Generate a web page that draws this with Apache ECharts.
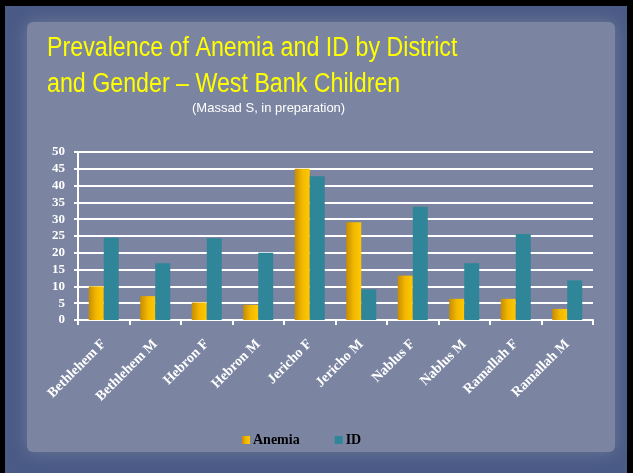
<!DOCTYPE html>
<html>
<head>
<meta charset="utf-8">
<script src="https://cdn.jsdelivr.net/npm/echarts@6/dist/echarts.min.js"></script>
<style>html,body{margin:0;padding:0;background:#000;}#c{width:633px;height:473px;}</style>
</head>
<body>
<div id="c"></div>
<script>
var categories = ['Bethlehem F','Bethlehem M','Hebron F','Hebron M','Jericho F','Jericho M','Nablus F','Nablus M','Ramallah F','Ramallah M'];
var anemia = [10, 7.1, 5.2, 4.5, 45, 29.1, 13.2, 6.3, 6.3, 3.3];
var idDef = [24.5, 16.9, 24.3, 20, 42.8, 9.1, 33.7, 16.9, 25.6, 11.8];
var seriesNames = ['Anemia', 'ID'];
var yTicks = {min: 0, max: 50, interval: 5};

var chart = echarts.init(document.getElementById('c'), null, {renderer: 'canvas'});
var labelFont = 'Liberation Serif';
chart.setOption({
  backgroundColor: '#000',
  animation: false,
  graphic: [
    {type: 'rect', z: -10, shape: {x: 5, y: 6, width: 622, height: 467}, style: {fill: '#4a5b86'}},
    {type: 'rect', z: -9, shape: {x: 27, y: 22, width: 588, height: 430, r: 6},
     style: {fill: '#7b85a2', shadowBlur: 16, shadowColor: '#6f7a98'}},
    {type: 'text', x: 47, y: 31, scaleX: 0.86, style: {text: 'Prevalence of Anemia and ID by District\nand Gender \u2013 West Bank Children', fill: '#ffff00', font: '27px "Liberation Sans", Arial, sans-serif', lineHeight: 35.5}},
    {type: 'text', left: 192, top: 102, style: {text: '(Massad S, in preparation)', fill: '#ffffff', font: '13px "Liberation Sans", Arial, sans-serif'}}
  ],
  legend: {
    data: seriesNames,
    left: 237, top: 428,
    itemWidth: 8, itemHeight: 8, itemGap: 35,
    icon: 'rect',
    textStyle: {color: '#000', fontFamily: labelFont, fontWeight: 'bold', fontSize: 14, padding: [0,0,0,-2]}
  },
  grid: {left: 78, right: 40, top: 152, bottom: 153, containLabel: false},
  xAxis: {
    type: 'category', data: categories,
    axisLine: {lineStyle: {color: '#fff', width: 2}},
    axisTick: {show: true, alignWithLabel: false, length: 5, lineStyle: {color: '#fff', width: 2}},
    axisLabel: {rotate: 45, color: '#fff', fontFamily: labelFont, fontWeight: 'bold', fontSize: 14, margin: 22, interval: 0}
  },
  yAxis: {
    type: 'value', min: yTicks.min, max: yTicks.max, interval: yTicks.interval,
    axisLine: {show: true, lineStyle: {color: '#fff', width: 2}},
    axisTick: {show: true, inside: false, length: 4, lineStyle: {color: '#fff', width: 2}},
    axisLabel: {color: '#fff', fontFamily: labelFont, fontWeight: 'bold', fontSize: 13, margin: 13},
    splitLine: {lineStyle: {color: '#fff', width: 2}}
  },
  series: [
    {name: seriesNames[0], type: 'bar', data: anemia, barWidth: 15, barGap: '0%',
     itemStyle: {color: new echarts.graphic.LinearGradient(0,0,1,0,[{offset:0,color:'#c88d00'},{offset:0.5,color:'#f2b800'},{offset:1,color:'#ffc800'}])}},
    {name: seriesNames[1], type: 'bar', data: idDef, barWidth: 15, barGap: '0%',
     itemStyle: {color: '#2f8699'}}
  ]
});
</script>
</body>
</html>
